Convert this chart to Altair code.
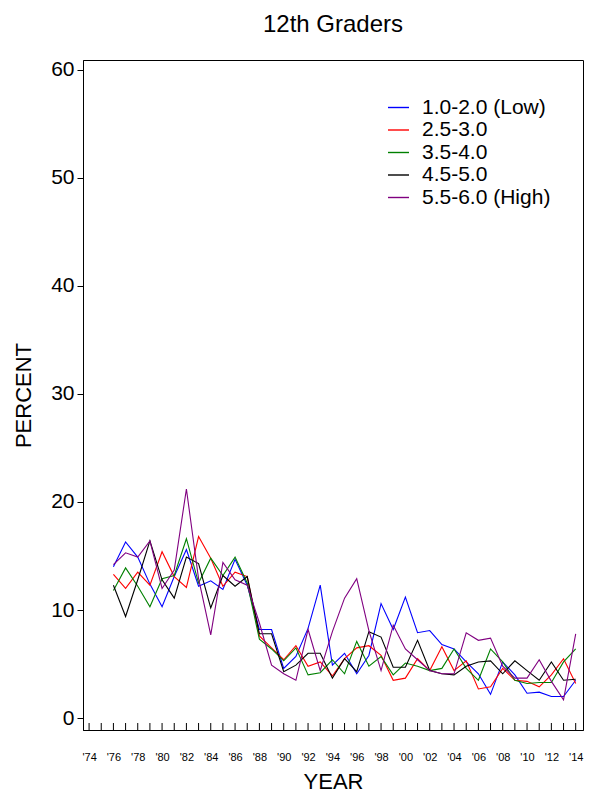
import altair as alt
import pandas as pd

years = list(range(1976, 2015))
groups = ["1.0-2.0 (Low)", "2.5-3.0", "3.5-4.0", "4.5-5.0", "5.5-6.0 (High)"]
colors = ["#0000ff", "#ff0000", "#008000", "#000000", "#800080"]

low = [14.0, 16.3, 14.9, 12.4, 10.3, 13.1, 15.6, 12.2, 12.7, 11.9, 14.7, 12.3,
       8.2, 8.2, 4.6, 5.7, 8.3, 12.3, 4.9, 6.0, 4.1, 5.8, 10.6, 8.2,
       11.2, 7.9, 8.1, 6.8, 6.4, 5.2, 4.1, 2.2, 5.2, 4.0, 2.3, 2.4, 2.0, 2.0, 3.5]
g25 = [13.3, 12.0, 13.5, 12.3, 15.4, 13.1, 12.1, 16.8, 14.8, 12.2, 13.5, 13.1,
       7.6, 6.5, 5.4, 6.7, 4.8, 5.2, 3.9, 5.5, 6.5, 6.7, 5.8, 3.5,
       3.7, 5.5, 4.4, 6.6, 4.4, 5.3, 2.7, 2.9, 4.6, 3.5, 3.4, 2.9, 4.0, 5.5, 3.2]
g35 = [11.8, 13.9, 12.2, 10.3, 12.9, 13.2, 16.6, 12.5, 14.8, 13.2, 14.9, 12.5,
       7.3, 6.4, 5.3, 6.5, 4.0, 4.2, 5.4, 4.1, 7.1, 4.8, 5.7, 4.0,
       5.1, 4.8, 4.4, 4.6, 6.4, 4.6, 3.5, 6.4, 5.2, 3.5, 3.2, 3.3, 3.3, 5.2, 6.4]
g45 = [12.3, 9.4, 12.8, 16.4, 12.8, 11.1, 14.9, 14.3, 10.2, 13.2, 12.2, 13.1,
       7.8, 7.8, 4.3, 4.9, 6.0, 6.0, 3.7, 5.5, 4.3, 8.0, 7.5, 4.7,
       4.7, 7.2, 4.4, 4.1, 4.0, 4.8, 5.2, 5.3, 4.1, 5.3, 4.4, 3.5, 5.2, 3.5, 3.6]
high = [14.2, 15.3, 14.9, 16.4, 12.0, 13.7, 21.2, 12.9, 7.7, 14.4, 12.8, 12.3,
        8.8, 4.9, 4.1, 3.5, 8.2, 4.4, 8.0, 11.1, 12.9, 8.1, 4.4, 8.6,
        6.4, 5.4, 4.4, 4.1, 4.1, 7.9, 7.2, 7.4, 4.8, 3.7, 3.7, 5.4, 3.4, 1.7, 7.8]

tick_years = list(range(1974, 2015))
label_years = list(range(1974, 2015, 2))
y_ticks = [0, 10, 20, 30, 40, 50, 60]

rows = []
for g, vals in zip(groups, [low, g25, g35, g45, high]):
    for yr, v in zip(years, vals):
        rows.append({"year": yr, "group": g, "percent": v})
df = pd.DataFrame(rows)

W, H = 500, 670
FONT = "Liberation Sans"
xscale = alt.Scale(domain=[1973.5, 2014.6], nice=False, zero=False)
yscale = alt.Scale(domain=[-1.1, 60.9], nice=False, zero=False)

xaxis = alt.Axis(values=label_years, format="d",
                 labelExpr="\"'\" + substring(datum.label, 2)",
                 ticks=False, tickSize=0, labelPadding=21,
                 labelFontSize=11, titleFontSize=22, titlePadding=9,
                 grid=False, labelFlush=False)

lines = alt.Chart(df).mark_line(strokeWidth=1.1, clip=True).encode(
    x=alt.X("year:Q", scale=xscale, title="YEAR", axis=xaxis),
    y=alt.Y("percent:Q", scale=yscale, title="PERCENT",
            axis=alt.Axis(values=y_ticks, tickSize=6, labelPadding=3,
                          labelFontSize=21, titleFontSize=22, titlePadding=15,
                          grid=False)),
    color=alt.Color("group:N", scale=alt.Scale(domain=groups, range=colors),
                    legend=alt.Legend(title=None, orient="none", legendX=304, legendY=36,
                                      symbolType="stroke", symbolSize=441,
                                      symbolStrokeWidth=1.4, labelFontSize=21,
                                      labelOffset=12, rowPadding=0.5, padding=0)),
)

ticks = alt.Chart(pd.DataFrame({"year": tick_years})).mark_rule(
    color="black", strokeWidth=1
).encode(
    x=alt.X("year:Q", scale=xscale, title="YEAR", axis=xaxis),
    y=alt.value(H),
    y2=alt.value(H - 7),
)

chart = alt.layer(lines, ticks).properties(
    width=W, height=H,
    title=alt.TitleParams("12th Graders", fontSize=24, fontWeight="normal",
                          font=FONT, offset=22, color="black"),
    padding={"left": 75, "top": 52, "right": 1, "bottom": 63},
    autosize=alt.AutoSizeParams(type="none"),
).configure_view(
    stroke="black", strokeWidth=1
).configure_axis(
    labelFont=FONT, titleFont=FONT, titleFontWeight="normal",
    labelColor="black", titleColor="black",
    domainColor="black", tickColor="black", domainWidth=1,
).configure_legend(
    labelFont=FONT, labelColor="black"
)

chart.save("out.html", embed_options={"renderer": "svg", "actions": False})
